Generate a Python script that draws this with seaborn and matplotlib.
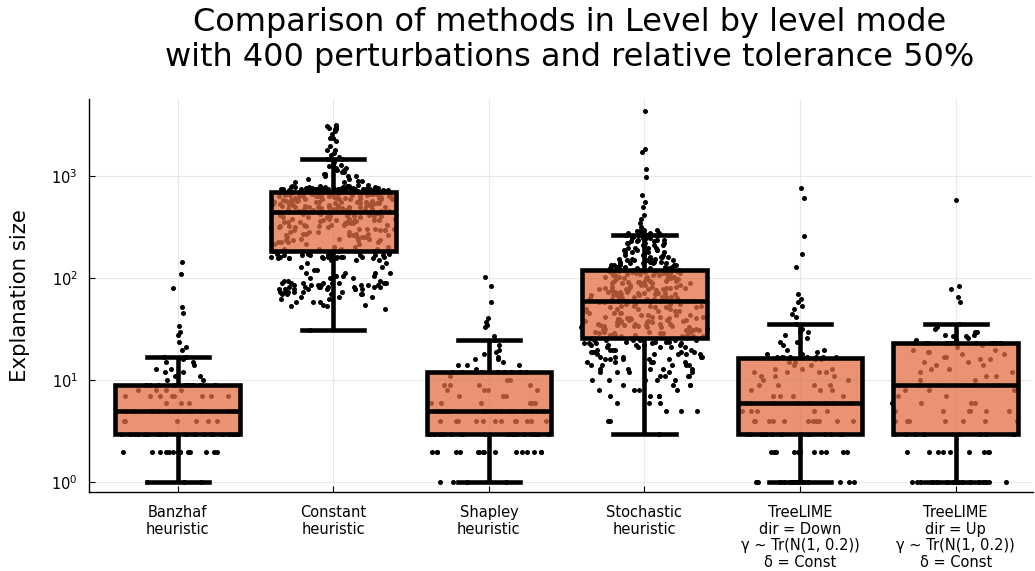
import numpy as np
import pandas as pd
import matplotlib
matplotlib.use("Agg")
import matplotlib.pyplot as plt
from matplotlib.ticker import NullLocator
import seaborn as sns

# ---------------- data (value : count) ----------------
categories = ["Banzhaf\nheuristic", "Constant\nheuristic", "Shapley\nheuristic",
              "Stochastic\nheuristic",
              "TreeLIME\ndir = Down\nγ ~ Tr(N(1, 0.2))\nδ = Const",
              "TreeLIME\ndir = Up\nγ ~ Tr(N(1, 0.2))\nδ = Const"]

banzhaf_vals = [1, 2, 3, 4, 5, 6, 7, 8, 9, 10, 11, 12, 13, 14, 15, 16, 17,
                20, 21, 24, 28, 30, 34, 46, 52, 80, 109, 143]
banzhaf_counts = [3, 14, 25, 6, 20, 3, 8, 4, 12, 2, 2, 2, 2, 1, 2, 1, 2,
                  1, 1, 1, 1, 1, 1, 1, 1, 1, 1, 1]

constant_vals = [31, 50, 53, 55, 58, 62, 66, 70, 74, 78, 82, 86, 90, 95, 100, 106, 112,
                 120, 130, 140, 150, 158, 163, 168, 175,
                 185, 195, 205, 215, 225, 235, 245, 255, 265, 275, 285, 295, 305,
                 315, 325, 335, 345, 355, 365, 375, 385, 395, 405, 415, 425, 435,
                 445,
                 455, 465, 475, 485, 495, 505, 515, 525, 535, 545, 555, 565, 575,
                 585, 595, 605, 615, 625, 635, 645, 655, 665, 675, 685, 695, 705,
                 715,
                 725, 735, 745, 755, 765, 780, 800,
                 830, 870, 900, 950, 1000, 1050, 1100, 1150, 1200, 1250, 1300, 1380, 1450, 1480,
                 1550, 1600, 1700, 1800, 2000, 2200, 2400, 2600, 2800, 2900, 3000, 3100, 3150]
constant_counts = [1, 1, 2, 2, 3, 2, 3, 5, 6, 8, 8, 7, 8, 3, 3, 3, 4,
                   2, 2, 2, 3, 6, 10, 8, 3,
                   4, 4, 4, 4, 4, 4, 4, 4, 4, 4, 4, 4, 4,
                   4, 4, 4, 4, 4, 4, 4, 4, 4, 4, 4, 4, 4,
                   6,
                   4, 4, 4, 4, 4, 4, 4, 4, 4, 4, 4, 4, 4,
                   4, 4, 4, 4, 4, 4, 4, 4, 4, 4, 4, 4, 4,
                   6,
                   8, 10, 10, 10, 8, 6, 4,
                   2, 2, 2, 2, 3, 2, 2, 2, 2, 1, 2, 1, 1, 2,
                   1, 1, 1, 2, 1, 1, 2, 1, 1, 2, 2, 2, 1]

shapley_vals = [1, 2, 3, 4, 5, 6, 7, 8, 9, 10, 11, 12, 13, 14, 15, 16, 17, 18, 19, 20,
                22, 25, 27, 33, 35, 37, 41, 59, 84, 102]
shapley_counts = [4, 16, 22, 12, 18, 6, 3, 4, 4, 2, 1, 12, 1, 3, 1, 2, 1, 1, 1, 1,
                  1, 1, 1, 1, 1, 1, 1, 1, 1, 1]

stochastic_vals = [3, 4, 5, 6, 7, 8, 9, 10, 11, 12, 13, 14, 15, 16, 17, 18, 19, 20,
                   21, 22, 23, 24, 25,
                   26, 27, 28, 29, 30, 31, 32, 33, 34, 35, 36, 37, 38, 39, 40, 41, 42,
                   44, 46, 48, 50, 52, 54, 56, 58,
                   60,
                   62, 64, 66, 68, 70, 72, 74, 76, 78, 80, 83, 86, 89, 92, 95, 98, 101,
                   104, 107, 110, 113, 116, 119, 122,
                   125, 130, 135, 140, 145, 150, 155, 160, 170, 180, 190, 200, 210, 220,
                   230, 240, 250, 258, 265,
                   270, 280, 290, 300, 320, 350, 380, 420, 500, 560, 650, 980, 1170,
                   1750, 1850, 4400]
stochastic_counts = [1, 2, 3, 3, 4, 4, 4, 5, 4, 5, 5, 5, 5, 5, 5, 5, 5, 5,
                     5, 5, 5, 4, 6,
                     4, 4, 4, 4, 4, 4, 4, 4, 4, 4, 4, 4, 4, 4, 4, 4, 4,
                     4, 4, 4, 4, 4, 4, 4, 4,
                     6,
                     4, 4, 4, 4, 4, 4, 4, 4, 4, 4, 4, 4, 4, 4, 4, 4, 4,
                     4, 4, 4, 4, 4, 4, 4,
                     5, 5, 5, 5, 4, 4, 4, 4, 4, 4, 4, 4, 3, 4,
                     3, 4, 4, 4, 4,
                     3, 3, 2, 2, 1, 1, 1, 1, 1, 1, 1, 1, 1,
                     1, 1, 1]

treelime_down_vals = [1, 2, 3, 4, 5, 6, 7, 8, 9, 10, 11, 12, 13, 14, 15, 16, 17,
                      18, 19, 20, 22, 24, 26, 28, 30, 32, 36,
                      42, 45, 50, 54, 58, 62, 70, 128, 172, 260, 610, 760]
treelime_down_counts = [16, 12, 16, 12, 5, 10, 5, 3, 4, 2, 3, 4, 3, 2, 2, 2, 8,
                        2, 1, 2, 1, 2, 1, 1, 2, 1, 1,
                        1, 1, 1, 1, 1, 1, 1, 1, 1, 1, 1, 1]

treelime_up_vals = [1, 2, 3, 4, 5, 6, 7, 8, 9, 10, 11, 12, 13, 14, 15, 16, 17, 18,
                    19, 20, 21, 22, 23, 25, 26, 27, 28, 30, 32, 33, 36,
                    58, 65, 78, 84, 582]
treelime_up_counts = [18, 9, 10, 7, 6, 4, 2, 3, 8, 2, 2, 2, 2, 2, 2, 2, 2, 2,
                      2, 2, 1, 1, 16, 2, 1, 2, 2, 2, 1, 1, 1,
                      1, 1, 1, 1, 1]

series_vals = [banzhaf_vals, constant_vals, shapley_vals, stochastic_vals,
               treelime_down_vals, treelime_up_vals]
series_counts = [banzhaf_counts, constant_counts, shapley_counts, stochastic_counts,
                 treelime_down_counts, treelime_up_counts]

title = "Comparison of methods in Level by level mode\nwith 400 perturbations and relative tolerance 50%"
ylabel = "Explanation size"


# ---------------- density-scaled jitter (layout only) ----------------
def density_jitter(values, seed, maxw=0.41, power=0.6):
    n = len(values)
    q1, q3 = np.percentile(values, [25, 75])
    bw = 1.5 * 0.9 * min(values.std(ddof=1), (q3 - q1) / 1.34) * n ** -0.2
    d = np.exp(-0.5 * ((values[:, None] - values[None, :]) / bw) ** 2).sum(axis=1)
    w = maxw * (d / d.max()) ** power
    k = np.arange(n) + 1000 * seed
    u = ((np.sin(k * 12.9898 + 78.233) * 43758.5453) % 1.0) * 2 - 1
    return u * w


frames = []
for i, (v, c) in enumerate(zip(series_vals, series_counts)):
    vals = np.repeat(np.asarray(v, float), np.asarray(c))
    frames.append(pd.DataFrame({"pos": i, "value": vals,
                                "xj": i + density_jitter(vals, i)}))
df = pd.concat(frames, ignore_index=True)

# ---------------- plot ----------------
W, H = 1035, 571
fig = plt.figure(figsize=(W / 100, H / 100), dpi=100)
ax = fig.add_axes([89 / W, (H - 492.3) / H, (1033 - 89) / W, (492.3 - 99.3) / H])

sns.scatterplot(data=df, x="xj", y="value", color="black", s=13, linewidth=0,
                ax=ax, legend=False, zorder=1)
sns.boxplot(data=df, x="pos", y="value", native_scale=True, width=0.8,
            showfliers=False, whis=1.5, color="#e26f46", saturation=1,
            linecolor="black", linewidth=3.3, ax=ax)
for p in ax.patches:
    p.set_facecolor((0.886, 0.435, 0.275, 0.75))
    p.set_edgecolor("black")

ax.set_yscale("log")
ax.set_ylim(0.798, 5690)
ax.set_xlim(-0.570, 5.497)
ax.set_yticks([1, 10, 100, 1000])
ax.yaxis.set_minor_locator(NullLocator())
ax.set_xticks(range(len(categories)))
ax.set_xticklabels(categories, fontsize=10.5, linespacing=1.15)
ax.tick_params(axis="y", labelsize=10.5, direction="in", length=4, width=0.8, pad=8)
ax.tick_params(axis="x", direction="in", length=4, width=0.8, pad=9)
ax.set_xlabel("")
ax.set_ylabel(ylabel, fontsize=15.3)
ax.yaxis.set_label_coords(-59 / (1033 - 89), 0.5)

ax.grid(True, color="#e8e8e8", linewidth=0.8)
ax.set_axisbelow(True)
for s in ["top", "right"]:
    ax.spines[s].set_visible(False)
for s in ["left", "bottom"]:
    ax.spines[s].set_color("black")
    ax.spines[s].set_linewidth(1.0)

fig.text(570 / W, 1 - 7 / H, title, ha="center", va="top", fontsize=23,
         linespacing=1.15)

fig.savefig("out.png", dpi=100)
